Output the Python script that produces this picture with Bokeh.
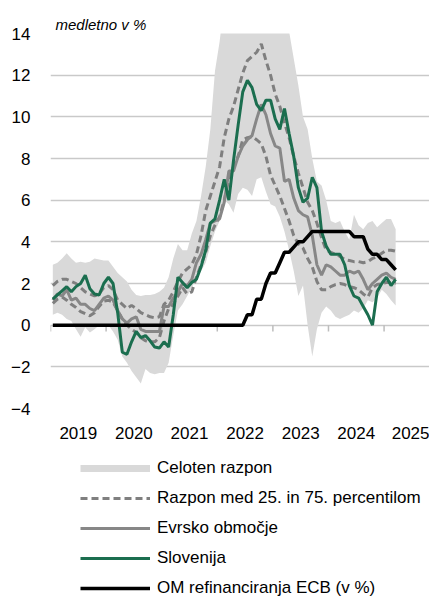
from bokeh.plotting import figure
from bokeh.layouts import column
from bokeh.models import FixedTicker, Legend, LegendItem, Range1d
from bokeh.embed import file_html
from bokeh.resources import INLINE

FONT = "Liberation Sans"

# ---------------- data ----------------
start_year = 2019
n_months = 75  # Jan 2019 .. Mar 2025
years = [2019, 2020, 2021, 2022, 2023, 2024, 2025]
year_labels = ["2019", "2020", "2021", "2022", "2023", "2024", "2025"]
y_ticks = [-4, -2, 0, 2, 4, 6, 8, 10, 12, 14]

razpon_min = [
    0.5, 0.6, 0.5, 0.3, 0.2, -0.2, -0.55, -0.1, -0.35, -0.2, 0.0, 0.0,
    0.0, -0.3, -0.7, -1.5, -1.8, -2.2, -2.5, -2.8, -2.1, -2.3, -2.35, -2.3,
    -2.3, -1.8, -0.5, 0.7, 1.0, 1.4, 1.8, 2.3, 2.6, 3.0, 3.8, 4.5,
    5.0, 6.0, 5.8, 5.4, 6.3, 6.6, 6.5, 6.2, 7.0, 7.1, 6.4, 5.8,
    5.7, 5.2, 4.5, 3.6, 2.6, 1.4, 1.9, 0.0, -1.5, -0.2, 0.6, 0.9,
    0.7, 0.4, 0.3, 0.4, 0.5, 0.7, 0.6, 0.8, 1.2, 1.1, 1.3, 1.7,
    1.5, 1.2, 0.95]
razpon_max = [
    2.9, 3.0, 3.2, 3.45, 3.2, 3.0, 3.05, 3.0, 3.05, 3.2, 3.15, 3.1,
    3.1, 2.8, 2.5, 2.3, 2.1, 1.7, 1.45, 1.4, 1.45, 1.45, 1.5, 1.6,
    1.8, 2.3, 3.2, 3.9, 3.6, 3.6, 4.4, 5.0, 6.2, 7.6, 9.4, 12.2,
    13.6, 15.5, 17.0, 19.0, 20.0, 22.0, 23.0, 25.0, 24.0, 22.0, 21.0, 19.0,
    18.0, 17.0, 15.5, 14.1, 12.8, 11.5, 10.0, 9.4, 8.0, 6.9, 6.7, 6.0,
    5.0, 4.9, 5.0, 4.5, 4.1, 5.3, 4.8, 4.6, 4.9, 5.0, 4.7, 4.9,
    5.1, 5.1, 4.6]
p25 = [
    1.05, 1.25, 1.35, 1.2, 1.0, 0.85, 0.65, 0.55, 0.45, 0.6, 0.9, 1.15,
    1.2, 1.1, 0.7, 0.3, 0.0, -0.2, -0.35, -0.6, -0.75, -0.8, -0.8, -0.6,
    0.2, 0.8, 1.0, 1.4, 1.8, 1.5, 1.6, 2.3, 2.9, 3.5, 4.3, 4.8,
    5.2, 6.0, 7.0, 7.6, 8.1, 8.9, 9.0, 9.05, 8.9, 8.7, 8.1, 7.2,
    6.7, 6.2, 5.6, 5.0, 4.3, 3.9, 3.7, 3.2, 2.8, 2.1, 1.7, 1.7,
    1.85, 1.95, 2.0, 1.95, 1.85, 1.8, 1.7, 1.5, 1.35, 1.8, 1.95, 2.0,
    2.05, 2.05, 2.0]
p75 = [
    1.9, 2.1, 2.2, 2.2, 2.1, 2.0, 1.8, 1.6, 1.5, 1.4, 1.5, 1.8,
    1.9, 1.7, 1.2, 1.0, 0.8, 0.95, 0.8, 0.6, 0.5, 0.4, 0.35, 0.4,
    1.0, 1.2, 1.6, 2.1, 2.5, 2.7, 2.9, 3.4, 4.3, 5.5, 6.2, 6.9,
    7.6, 9.0, 9.9, 10.5, 11.3, 12.1, 12.7, 12.9, 13.1, 13.5, 12.7, 12.0,
    11.1, 10.5, 9.7, 9.0, 8.1, 7.3, 6.6, 5.9, 5.5, 4.9, 4.2, 3.6,
    3.5, 3.4, 3.3, 3.15, 3.1, 3.05, 3.05, 3.0, 3.05, 3.2, 3.3, 3.45,
    3.6, 3.6, 3.55]
evrsko = [
    1.2, 1.5, 1.4, 1.7, 1.2, 1.3, 1.0, 1.0, 0.8, 0.7, 1.0, 1.3,
    1.4, 1.2, 0.7, 0.3, 0.1, 0.3, 0.4, -0.2, -0.3, -0.3, -0.3, -0.3,
    0.9, 0.9, 1.3, 1.6, 2.0, 1.9, 2.2, 3.0, 3.4, 4.1, 4.9, 5.0,
    5.1, 5.9, 7.4, 7.4, 8.1, 8.6, 8.9, 9.1, 9.9, 10.6, 10.1, 9.2,
    8.6, 8.5, 6.9, 7.0, 6.1, 5.5, 5.3, 5.2, 4.3, 2.9, 2.4, 2.9,
    2.8, 2.6, 2.4, 2.4, 2.6, 2.5, 2.6, 2.2, 1.7, 2.0, 2.2, 2.4,
    2.5, 2.3, 2.2]
slovenija = [
    1.25, 1.45, 1.65, 1.85, 1.6, 1.85, 2.0, 2.4, 1.75, 1.5, 1.45, 2.0,
    2.3, 2.0, 0.6, -1.3, -1.4, -0.8, -0.3, -0.6, -0.5, -0.75, -1.05, -1.1,
    -0.8, -1.05, 0.5, 2.3, 2.05, 1.8, 2.05, 2.2, 2.8, 3.6, 4.9, 5.1,
    6.0, 7.0, 6.0, 7.9, 9.6, 11.2, 11.75, 11.4, 10.6, 10.3, 10.8, 10.8,
    9.9, 9.4, 10.4, 9.2, 8.1, 6.6, 5.9, 6.1, 7.1, 6.6, 4.5, 3.8,
    3.4, 3.4, 3.4, 2.9, 1.9, 1.4, 1.3, 0.9, 0.5, 0.0, 1.6, 2.0,
    2.3, 1.9, 2.2]
ecb = [0.0] * 42 + [
    0.5, 0.5, 1.25, 1.25, 2.0, 2.5,
    2.5, 3.0, 3.5, 3.5, 3.75, 4.0, 4.0, 4.25, 4.5, 4.5, 4.5, 4.5,
    4.5, 4.5, 4.5, 4.5, 4.5, 4.25, 4.25, 4.25, 3.65, 3.4, 3.4, 3.15,
    3.15, 2.9, 2.65]

legend_labels = ["Celoten razpon", "Razpon med 25. in 75. percentilom",
                 "Evrsko območje", "Slovenija", "OM refinanciranja ECB (v %)"]

months = list(range(n_months))
x = [start_year + (m + 0.5) / 12 for m in months]

# ---------------- styles ----------------
BAND = "#d9d9d9"
DASH = "#7f7f7f"
EA = "#878787"
SI = "#1b6e4f"
GRID = "#c9c9c9"
TICK = "#bdbdbd"

# ---------------- main figure ----------------
p = figure(frame_width=379, frame_height=375,
           x_range=Range1d(2019, 2025.817), y_range=Range1d(-4, 14),
           output_backend="svg", toolbar_location=None,
           min_border_left=50, min_border_right=0,
           min_border_top=33, min_border_bottom=38)
p.outline_line_color = None

p.title.text = "medletno v %"
p.title.text_font = FONT
p.title.text_font_style = "italic"
p.title.text_font_size = "15px"
p.title.text_color = "#000000"
p.title.align = "left"
p.title.offset = 5
p.title.standoff = 2

p.xgrid.grid_line_color = None
p.ygrid.grid_line_color = GRID
p.ygrid.grid_line_width = 1.3

yax = p.yaxis[0]
yax.ticker = FixedTicker(ticks=y_ticks)
yax.axis_line_color = None
yax.major_tick_line_color = None
yax.minor_tick_line_color = None
yax.major_tick_out = 0
yax.major_tick_in = 0
yax.minor_tick_out = 0
yax.minor_tick_in = 0
yax.major_label_standoff = 20
yax.major_label_text_font = FONT
yax.major_label_text_font_size = "17px"
yax.major_label_text_color = "#000000"

xax = p.xaxis[0]
mid = [y + 0.5 for y in years]
xax.ticker = FixedTicker(ticks=mid)
xax.major_label_overrides = {m: lab for m, lab in zip(mid, year_labels)}
xax.axis_line_color = None
xax.major_tick_line_color = None
xax.minor_tick_line_color = None
xax.major_label_standoff = 12
xax.major_label_text_font = FONT
xax.major_label_text_font_size = "17px"
xax.major_label_text_color = "#000000"

p.varea(x=x, y1=razpon_min, y2=razpon_max, fill_color=BAND, fill_alpha=1.0)
# year-boundary tick marks hanging below the zero line
p.segment(x0=years, y0=[0] * len(years), x1=years, y1=[-0.3] * len(years),
          line_color=TICK, line_width=1.5)
p.line(x=x, y=p75, line_color=DASH, line_width=3, line_dash="7 4")
p.line(x=x, y=p25, line_color=DASH, line_width=3, line_dash="7 4")
p.line(x=x, y=evrsko, line_color=EA, line_width=3)
p.line(x=x, y=slovenija, line_color=SI, line_width=3)
p.line(x=x, y=ecb, line_color="#000000", line_width=3.5)

# ---------------- legend figure ----------------
lg = figure(frame_width=379, frame_height=154,
            x_range=Range1d(0, 1), y_range=Range1d(0, 1),
            x_axis_type=None, y_axis_type=None,
            output_backend="svg", toolbar_location=None,
            min_border_left=50, min_border_right=0,
            min_border_top=0, min_border_bottom=0)
lg.outline_line_color = None
lg.grid.visible = False

# off-range samples: these renderers only feed the legend swatches
off = [5, 6]
r0 = lg.line(x=off, y=off, line_color=BAND, line_width=7)
r1 = lg.line(x=off, y=off, line_color=DASH, line_width=3, line_dash="7 4")
r2 = lg.line(x=off, y=off, line_color=EA, line_width=3)
r3 = lg.line(x=off, y=off, line_color=SI, line_width=3)
r4 = lg.line(x=off, y=off, line_color="#000000", line_width=3.5)

legend = Legend(items=[LegendItem(label=lab, renderers=[r])
                       for lab, r in zip(legend_labels, [r0, r1, r2, r3, r4])])
legend.location = (30, 2)
legend.orientation = "vertical"
legend.margin = 0
legend.padding = 0
legend.spacing = 10
legend.glyph_width = 70
legend.glyph_height = 20
legend.label_height = 20
legend.label_standoff = 7
legend.border_line_color = None
legend.background_fill_alpha = 0
legend.label_text_font = FONT
legend.label_text_font_size = "17px"
legend.label_text_color = "#000000"
lg.add_layout(legend, "center")

layout = column(p, lg, spacing=0)
open("out.html", "w", encoding="utf-8").write(file_html(layout, INLINE))
